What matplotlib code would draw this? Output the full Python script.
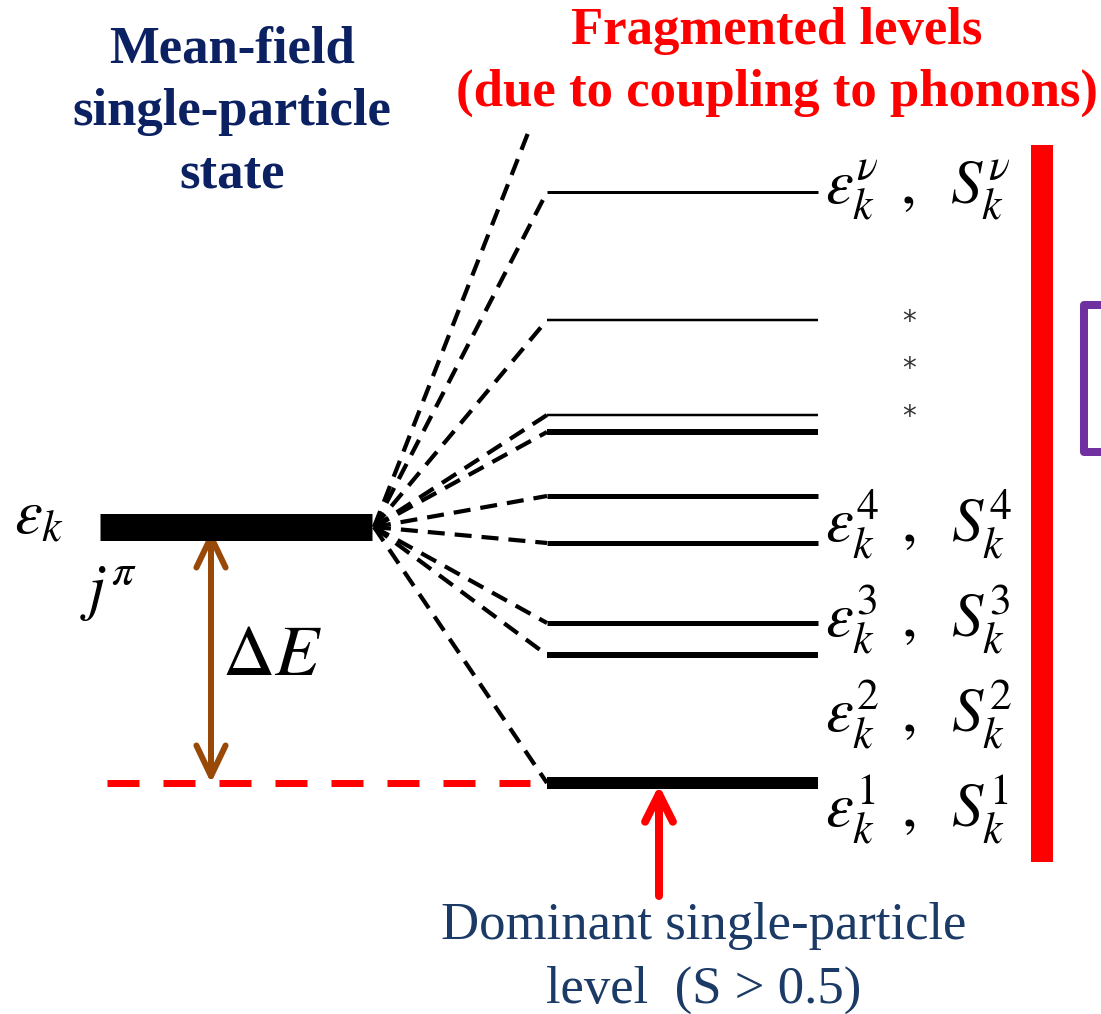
import matplotlib
matplotlib.use("Agg")
import matplotlib.pyplot as plt
from matplotlib.patches import FancyArrowPatch
from matplotlib.lines import Line2D

plt.rcParams["mathtext.fontset"] = "stix"
plt.rcParams["lines.scale_dashes"] = False

# ---- diagram data (energy axis points downward, in drawing units) ----
mean_field_energy = 527
reference_energy = 783                     # dominant fragment / reference line
fragment_energy = [783, 655, 623, 543, 496, 432, 415, 320, 192]
fragment_weight = [12, 6, 5, 5, 5, 6, 2.5, 2.5, 3]   # line thickness ~ strength
open_branch_end = (528, 133)               # branch leading to further levels
label_sup = ["1", "2", "3", "4", r"\nu"]
label_baseline = [827, 732, 637, 542, 203]
ellipsis_y = [322, 369, 417]

# horizontal extents
mf_x = (100, 372)
frag_x = (547, 818)
ref_x = (107, 530)
gap_arrow_x = 211
dominant_arrow_x = 659

NAVY = "#0B2161"
TEXT_BLUE = "#1B3A66"
RED = "#FF0000"
BROWN = "#984807"
PURPLE = "#7030A0"

PX = 0.72   # pixel -> point at 100 dpi

fig = plt.figure(figsize=(11.01, 10.14), dpi=100)
ax = fig.add_axes([0, 0, 1, 1])
ax.set_xlim(0, 1101)
ax.set_ylim(1014, 0)
ax.axis("off")

# mean-field level
ax.plot(mf_x, [mean_field_energy] * 2, color="black", lw=27 * PX,
        solid_capstyle="butt")

# fragmented levels
for e, w in zip(fragment_energy, fragment_weight):
    ax.plot(frag_x, [e, e], color="black", lw=w * PX, solid_capstyle="butt")

# dashed couplings from the mean-field level to every fragment
origin = (mf_x[1] + 2, mean_field_energy)
ends = [(frag_x[0], e) for e in fragment_energy] + [open_branch_end]
for xe, ye in ends:
    ax.add_line(Line2D([origin[0], xe], [origin[1], ye], color="black",
                       lw=4.2 * PX, dashes=(17 * PX, 10 * PX),
                       solid_capstyle="butt", dash_capstyle="butt"))

# reference (dominant) energy, red dashed
ax.add_line(Line2D(ref_x, [reference_energy] * 2, color=RED, lw=7 * PX,
                   dashes=(32 * PX, 24 * PX), dash_capstyle="butt"))

# energy gap arrow
ax.add_patch(FancyArrowPatch((gap_arrow_x, mean_field_energy + 3),
                             (gap_arrow_x, reference_energy),
                             arrowstyle="<->,head_length=22,head_width=10.5",
                             mutation_scale=1, color=BROWN, lw=6 * PX,
                             capstyle="round", joinstyle="round",
                             shrinkA=0, shrinkB=0))

# arrow to dominant level
ax.add_patch(FancyArrowPatch((dominant_arrow_x, 896),
                             (dominant_arrow_x, reference_energy + 2),
                             arrowstyle="->,head_length=20,head_width=10",
                             mutation_scale=1, color=RED, lw=8 * PX,
                             capstyle="round", joinstyle="round",
                             shrinkA=0, shrinkB=0))

# red bar spanning the fragments
ax.plot([1042, 1042], [145, 862], color=RED, lw=22 * PX, solid_capstyle="butt")

# purple bracket
ax.plot([1104, 1084, 1084, 1104], [305, 305, 452, 452], color=PURPLE,
        lw=8 * PX, solid_joinstyle="round", solid_capstyle="round")

# math labels
MS = 45
for sup, yb in zip(label_sup, label_baseline):
    ax.text(825, yb,
            rf"$\varepsilon_k^{{{sup}}}\;\,,\;\;S_k^{{{sup}}}$",
            fontsize=MS, ha="left", va="baseline", color="black")

ax.text(14, 533, r"$\varepsilon_k$", fontsize=MS, ha="left", va="baseline")
ax.text(80, 608, r"$j^{\pi}$", fontsize=MS, ha="left", va="baseline")
ax.text(222, 675, r"$\Delta E$", fontsize=52, ha="left", va="baseline")

for y in ellipsis_y:
    ax.text(909, y, "*", fontsize=20, ha="center", va="center",
            color="#333333", family="DejaVu Sans")

# titles
ax.text(232, 112, "Mean-field\nsingle-particle\nstate", fontsize=38,
        fontweight="bold", family="Liberation Serif", color=NAVY,
        ha="center", va="center", linespacing=1.39)
ax.text(777, 62, "Fragmented levels\n(due to coupling to phonons)",
        fontsize=38, fontweight="bold", family="Liberation Serif", color=RED,
        ha="center", va="center", linespacing=1.39)
ax.text(704, 958, "Dominant single-particle\nlevel  (S > 0.5)", fontsize=38,
        family="Liberation Serif", color=TEXT_BLUE, ha="center",
        va="center", linespacing=1.45)

fig.savefig("out.png", dpi=100)
